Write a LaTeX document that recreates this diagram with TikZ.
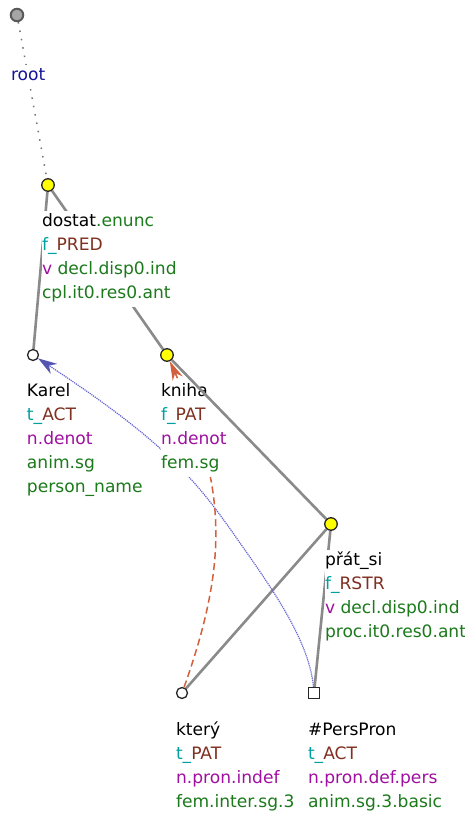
\documentclass[tikz,border=0pt]{standalone}
\usepackage{fontspec}
\setmainfont{DejaVu Sans}
\usepackage{xcolor}
\usetikzlibrary{arrows.meta,positioning}
\definecolor{fpre}     {HTML}{00A0A0}
\definecolor{fval}     {HTML}{7F3020}
\definecolor{semc}     {HTML}{A010A0}
\definecolor{gramc}    {HTML}{1C7A1C}
\definecolor{rootblue} {HTML}{14149A}
\definecolor{edgegray} {HTML}{8A8A8A}
\definecolor{corefblue}{HTML}{6464D2}
\definecolor{corefred} {HTML}{D2603C}
\definecolor{hilite}   {HTML}{FFFF00}
\pgfdeclarelayer{back}
\pgfdeclarelayer{mid}
\pgfsetlayers{back,mid,main}
% one label row, white behind it
\newcommand{\lrow}[1]{{\setlength{\fboxsep}{0pt}\colorbox{white}{\rule[-9pt]{0pt}{24pt}#1}}}
\newcommand{\fun}[2]{\textcolor{fpre}{#1\_}\textcolor{fval}{#2}}
\newcommand{\semt}[1]{\textcolor{semc}{#1}}
\newcommand{\gramt}[1]{\textcolor{gramc}{#1}}
\tikzset{
  every node/.style={font=\fontsize{17.1}{24}\selectfont},
  % --- nodes
  nd/.style     = {circle, draw=black!85, line width=1.3pt, inner sep=0pt,
                   minimum size=11pt, fill=white},
  hot/.style    = {nd, fill=hilite, minimum size=12.5pt},
  gen/.style    = {nd, rectangle, minimum size=10.5pt},
  rootnd/.style = {nd, draw=black!65, fill=black!35, line width=2pt, minimum size=12.5pt},
  lbl/.style    = {anchor=north west, align=left, inner sep=0pt, outer sep=0pt},
  % --- edges
  e/.style      = {draw=edgegray, line width=2.6pt},
  ehid/.style   = {draw=black!55, line width=1.5pt, dash pattern=on 1.5pt off 7pt},
  cblue/.style  = {draw=corefblue, line width=1.2pt, dash pattern=on 1.2pt off 0.9pt,
                   -{Stealth[length=19pt,width=12pt,inset=6pt,color=corefblue!85!black]}},
  cred/.style   = {draw=corefred, line width=1.5pt, dash pattern=on 7pt off 4pt,
                   -{Stealth[length=19pt,width=11pt,inset=6pt,color=corefred]}},
}

\begin{document}
\begin{tikzpicture}[x=1pt,y=-1pt]
  \useasboundingbox (0,0) rectangle (465,814);
  % --- tree nodes
  \node[rootnd] (root) at (17,15) {};
  \node[hot] (dostat) at (48,185) {};
  \node[nd]  (karel)  at (33,355) {};
  \node[hot] (kniha)  at (167,355) {};
  \node[hot] (prat)   at (331,524) {};
  \node[nd]  (ktery)  at (182,693) {};
  \node[gen] (pers)   at (314,693) {};
  \coordinate (pbend) at (233,533);

  \begin{pgfonlayer}{back}
    \draw[ehid] (root)--(dostat);
    \draw[e] (dostat)--(karel); \draw[e] (dostat)--(kniha);
    \draw[e] (prat)--(ktery); \draw[e] (prat)--(pers);
    % coreference
    \draw[cblue] (pers) .. controls (309,638) and (268,583) .. (pbend)
                        .. controls (191,473) and (157,437) .. (karel);
    \draw[cred] (ktery) .. controls (230,558) and (225.5,484) .. (kniha);
  \end{pgfonlayer}

  \begin{pgfonlayer}{mid}
    \node[lbl] (rootlbl) at (11,65) {\lrow{\textcolor{rootblue}{root}}};
    \node[lbl] (dostatlbl) at (42,211)
      {\lrow{dostat\gramt{.enunc}}\\\lrow{\fun{f}{PRED}}\\
       \lrow{\semt{v} \gramt{decl.disp0.ind}}\\\lrow{\gramt{cpl.it0.res0.ant}}};
    \node[lbl] (karellbl) at (27,381)
      {\lrow{Karel}\\\lrow{\fun{t}{ACT}}\\\lrow{\semt{n.denot}}\\
       \lrow{\gramt{anim.sg}}\\\lrow{\gramt{person\_name}}};
    \node[lbl] (knihalbl) at (161,381)
      {\lrow{kniha}\\\lrow{\fun{f}{PAT}}\\\lrow{\semt{n.denot}}\\\lrow{\gramt{fem.sg}}};
    \node[lbl] (pratlbl) at (325,550)
      {\lrow{přát\_si}\\\lrow{\fun{f}{RSTR}}\\
       \lrow{\semt{v} \gramt{decl.disp0.ind}}\\\lrow{\gramt{proc.it0.res0.ant}}};
    \node[lbl] (kterylbl) at (176,720)
      {\lrow{který}\\\lrow{\fun{t}{PAT}}\\\lrow{\semt{n.pron.indef}}\\
       \lrow{\gramt{fem.inter.sg.3}}};
    \node[lbl] (perslbl) at (308,720)
      {\lrow{\#PersPron}\\\lrow{\fun{t}{ACT}}\\\lrow{\semt{n.pron.def.pers}}\\
       \lrow{\gramt{anim.sg.3.basic}}};
    \draw[e] (kniha)--(prat);
  \end{pgfonlayer}
\end{tikzpicture}
\end{document}
